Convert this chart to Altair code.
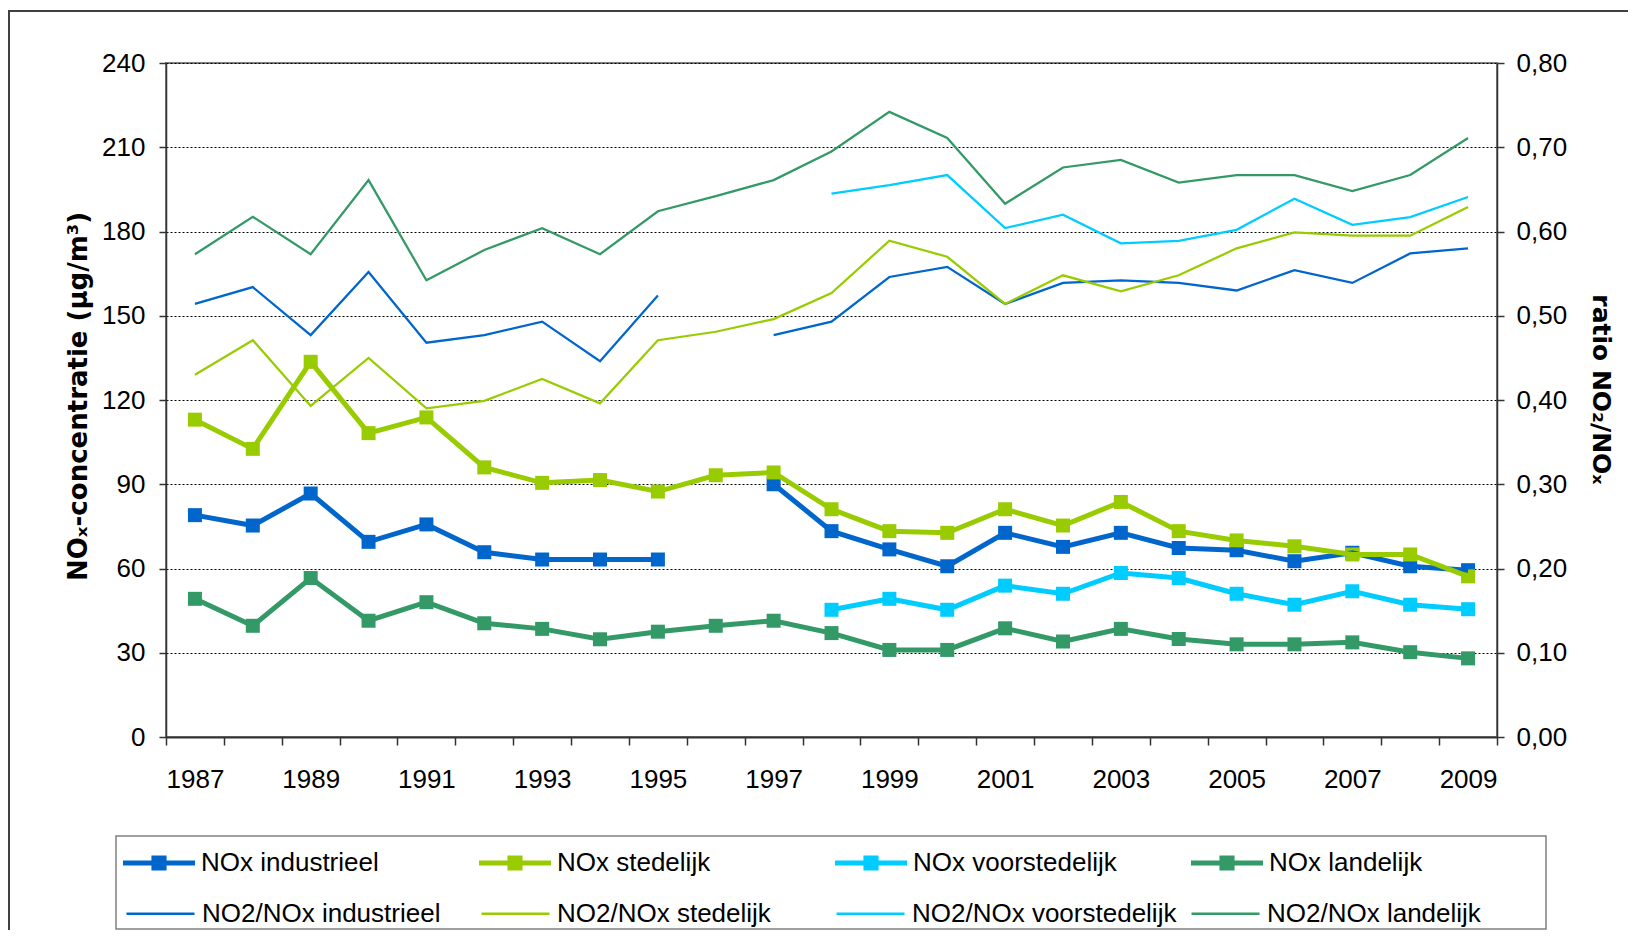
import altair as alt
import pandas as pd

years = list(range(1987, 2010))

nox_industrieel = [79.0, 75.3, 86.7, 69.5, 75.7, 65.8, 63.2, 63.2, 63.2, None, 90.0, 73.3,
                   66.8, 60.8, 72.7, 67.7, 72.7, 67.3, 66.5, 62.6, 65.6, 60.8, 59.4]
nox_stedelijk = [113.0, 102.6, 133.6, 108.2, 113.8, 96.0, 90.5, 91.5, 87.4, 93.2, 94.2, 81.1,
                 73.3, 72.7, 81.1, 75.3, 83.7, 73.3, 70.0, 67.9, 65.0, 65.0, 57.2]
nox_voorstedelijk = [None] * 11 + [45.3, 49.2, 45.3, 53.9, 51.0, 58.4, 56.6, 51.0, 47.1, 51.9, 47.1, 45.5]
nox_landelijk = [49.2, 39.6, 56.6, 41.4, 48.0, 40.5, 38.5, 34.8, 37.5, 39.6, 41.4, 37.0,
                 31.0, 31.0, 38.7, 34.0, 38.5, 34.9, 33.0, 33.0, 33.7, 30.2, 28.0]

ratio_industrieel = [0.514, 0.534, 0.477, 0.552, 0.468, 0.477, 0.493, 0.446, 0.524, None, 0.477, 0.493,
                     0.546, 0.558, 0.514, 0.539, 0.542, 0.539, 0.530, 0.554, 0.539, 0.574, 0.580]
ratio_stedelijk = [0.430, 0.471, 0.393, 0.450, 0.390, 0.399, 0.425, 0.396, 0.471, 0.481, 0.496, 0.527,
                   0.589, 0.570, 0.514, 0.548, 0.529, 0.548, 0.580, 0.599, 0.595, 0.595, 0.629]
ratio_voorstedelijk = [None] * 11 + [0.645, 0.655, 0.667, 0.604, 0.620, 0.586, 0.589, 0.602, 0.639, 0.608, 0.617, 0.641]
ratio_landelijk = [0.573, 0.6175, 0.573, 0.661, 0.542, 0.578, 0.604, 0.573, 0.624, 0.642, 0.661, 0.695,
                   0.742, 0.711, 0.633, 0.676, 0.685, 0.658, 0.667, 0.667, 0.648, 0.667, 0.711]

series_nox = ["NOx industrieel", "NOx stedelijk", "NOx voorstedelijk", "NOx landelijk"]
series_ratio = ["NO2/NOx industrieel", "NO2/NOx stedelijk", "NO2/NOx voorstedelijk", "NO2/NOx landelijk"]
colors = ["#0066CC", "#99CC00", "#00CCFF", "#339966"]

left_ticks = [0, 30, 60, 90, 120, 150, 180, 210, 240]
right_ticks = [0.0, 0.1, 0.2, 0.3, 0.4, 0.5, 0.6, 0.7, 0.8]
year_labels = years[::2]
band_edges = [y - 0.5 for y in years] + [years[-1] + 0.5]


def to_long(names, arrays):
    rows = []
    for name, arr in zip(names, arrays):
        seg = 0
        gap = True
        for yr, v in zip(years, arr):
            if v is None:
                gap = True
                continue
            if gap:
                seg += 1
                gap = False
            rows.append({"year": yr, "value": v, "series": name, "seg": f"{name}-{seg}"})
    return pd.DataFrame(rows)


df_nox = to_long(series_nox, [nox_industrieel, nox_stedelijk, nox_voorstedelijk, nox_landelijk])
df_ratio = to_long(series_ratio, [ratio_industrieel, ratio_stedelijk, ratio_voorstedelijk, ratio_landelijk])

FONT = "Liberation Sans"
TITLE_FONT = "DejaVu Sans"

xscale = alt.Scale(domain=[1986.5, 2009.5], nice=False, zero=False)

x_ticks_axis = alt.Axis(values=band_edges, labels=False, ticks=True, tickSize=8, tickColor="#333333",
                        tickWidth=1.5, domain=True, domainColor="#333333", domainWidth=2, grid=False,
                        title=None, orient="bottom")
x_label_axis = alt.Axis(values=year_labels, labels=True, ticks=False, tickSize=0, domain=False, grid=False,
                        title=None, orient="bottom", format="d", labelFont=FONT, labelFontSize=26,
                        labelColor="black", labelPadding=29, labelFlush=False, labelOverlap=False)

y_left = alt.Y("value:Q", scale=alt.Scale(domain=[0, 240], nice=False),
               axis=alt.Axis(values=left_ticks, orient="left", grid=True, gridColor="black", gridDash=[2, 2],
                             gridWidth=1, tickSize=7, tickColor="#333333", tickWidth=1.5,
                             domainColor="#333333", domainWidth=1.5, labelFont=FONT, labelFontSize=26,
                             labelColor="black", labelPadding=14,
                             title="NOₓ-concentratie (µg/m³)", titleFont=TITLE_FONT, titleFontSize=26,
                             titleFontWeight="bold", titleColor="black", titleAngle=270, titleX=-80,
                             titleY=333, titleAlign="center", titleBaseline="alphabetic"))

y_right = alt.Y("value:Q", scale=alt.Scale(domain=[0, 0.8], nice=False),
                axis=alt.Axis(values=right_ticks, orient="right", grid=False, tickSize=7, tickColor="#333333",
                              tickWidth=1.5, domainColor="#333333", domainWidth=1.5, labelFont=FONT,
                              labelFontSize=26, labelColor="black", labelPadding=12,
                              labelExpr="replace(format(datum.value, '.2f'), '.', ',')",
                              title="ratio NO₂/NOₓ", titleFont=TITLE_FONT, titleFontSize=25,
                              titleFontWeight="bold", titleColor="black", titleAngle=90, titleX=95,
                              titleY=326, titleAlign="center", titleBaseline="alphabetic"))

nox_scale = alt.Scale(domain=series_nox, range=colors)
ratio_scale = alt.Scale(domain=series_ratio, range=colors)

nox_symbol = ("M-1,-0.07H1V0.07H-1Z "
              "M-0.21,-0.21H0.21V0.21H-0.21Z")

nox_legend = alt.Legend(orient="none", legendX=-43, legendY=764, direction="horizontal", columns=4,
                        gridAlign="all", columnPadding=74, symbolType=nox_symbol, symbolSize=5184,
                        symbolStrokeWidth=0, symbolOpacity=1, labelFont=FONT, labelFontSize=26,
                        labelColor="black", labelOffset=6, labelLimit=600, title=None, padding=0)
ratio_legend = alt.Legend(orient="none", legendX=-41, legendY=815, direction="horizontal", columns=4,
                          gridAlign="all", columnPadding=9, symbolType="stroke", symbolSize=4624,
                          symbolStrokeWidth=2.5, symbolOpacity=1, labelFont=FONT, labelFontSize=26,
                          labelColor="black", labelOffset=6, labelLimit=600, title=None, padding=0)

nox_x = alt.X("year:Q", scale=xscale, axis=x_ticks_axis)
ratio_x = alt.X("year:Q", scale=xscale, axis=x_label_axis)

nox_points = alt.Chart(df_nox).mark_point(shape="square", filled=True, size=196, opacity=1).encode(
    x=nox_x, y=y_left,
    color=alt.Color("series:N", scale=nox_scale, legend=nox_legend),
)
nox_lines = alt.Chart(df_nox).mark_line(strokeWidth=5, opacity=1).encode(
    x=nox_x, y=y_left,
    color=alt.Color("series:N", scale=nox_scale, legend=nox_legend),
    detail="seg:N",
)
nox_chart = alt.layer(nox_points, nox_lines)

ratio_chart = alt.Chart(df_ratio).mark_line(strokeWidth=2.25, opacity=1).encode(
    x=ratio_x, y=y_right,
    color=alt.Color("series:N", scale=ratio_scale, legend=ratio_legend),
    detail="seg:N",
)

base = alt.Chart(alt.Data(values=[{"k": 1}]))
frame_top = base.mark_rule(color="#404040", strokeWidth=2).encode(
    x=alt.value(-158), x2=alt.value(1462), y=alt.value(-52))
frame_left = base.mark_rule(color="#404040", strokeWidth=2).encode(
    x=alt.value(-157), y=alt.value(-52), y2=alt.value(870))
legend_box = base.mark_rect(fillOpacity=0, stroke="#808080", strokeWidth=1.5).encode(
    x=alt.value(-50), x2=alt.value(1380), y=alt.value(773), y2=alt.value(866))
deco = alt.layer(frame_top, frame_left, legend_box)

chart = alt.layer(deco, ratio_chart, nox_chart).resolve_scale(
    x="independent", y="independent", color="independent"
).properties(
    width=1331, height=674,
    autosize=alt.AutoSizeParams(type="none"),
    padding={"left": 158, "top": 55, "right": 131, "bottom": 193},
    background="white",
).configure_view(
    stroke="#808080", strokeWidth=2
)

chart.save("out.html", embed_options={"renderer": "svg", "actions": False})
